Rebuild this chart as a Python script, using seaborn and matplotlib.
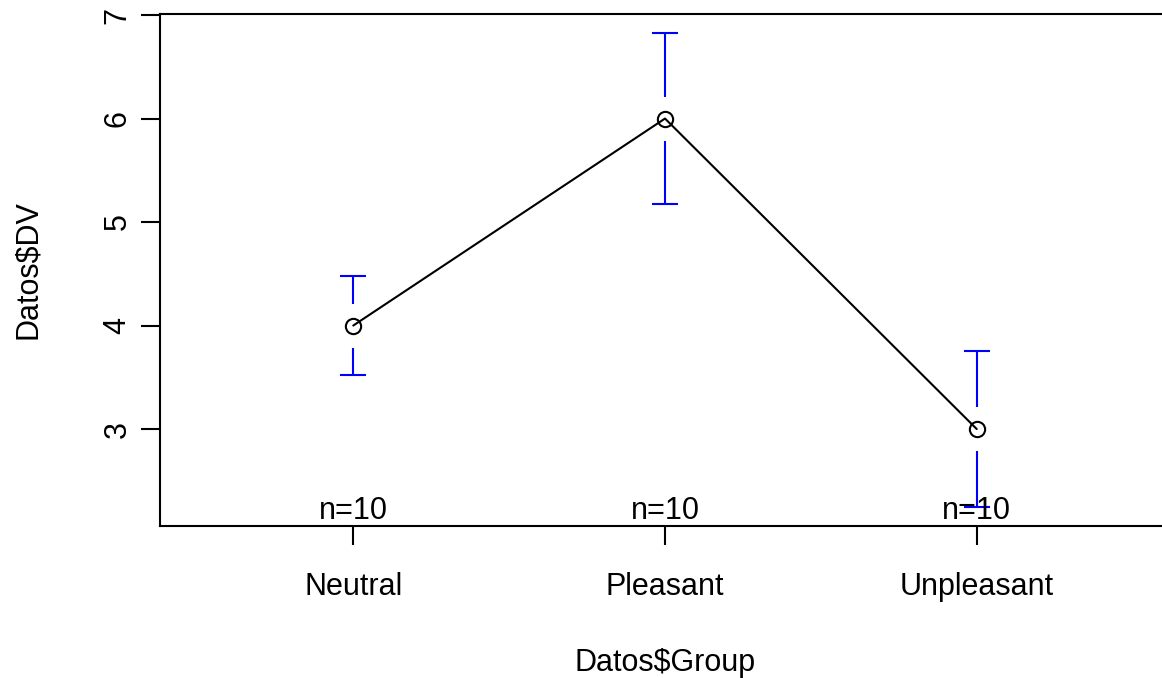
import matplotlib
matplotlib.use("Agg")
import matplotlib.pyplot as plt
import seaborn as sns
import numpy as np
import pandas as pd

categories = ["Neutral", "Pleasant", "Unpleasant"]
means = [4.0, 6.0, 3.0]
ci_lower = [3.52, 5.17, 2.25]
ci_upper = [4.48, 6.83, 3.75]
n_counts = [10, 10, 10]
y_ticks = [3, 4, 5, 6, 7]

sns.set_theme(style="white")
plt.rcParams['font.family'] = ['Liberation Sans', 'DejaVu Sans']

fig = plt.figure(figsize=(11.62, 6.78), dpi=100)
ax = fig.add_axes([160/1162, 1-525.6/678, (1170-160)/1162, (525.6-13.7)/678])

pos = np.arange(1, len(categories) + 1)
df = pd.DataFrame({"pos": pos, "mean": means})

ax.set_xlim(0.38, 3.62)
ax.set_ylim(2.067, 7.013)

# error bars with a gap around the point (gap in pixels -> data units)
gap_px = 22
px_per_unit = ax.transData.transform((0, 1))[1] - ax.transData.transform((0, 0))[1]
gap = gap_px / px_per_unit
cap_px = 13
px_per_x = ax.transData.transform((1, 0))[0] - ax.transData.transform((0, 0))[0]
cap = cap_px / px_per_x
for p, m, lo, hi in zip(pos, means, ci_lower, ci_upper):
    ax.plot([p, p], [m + gap, hi], color="blue", lw=1.5, solid_capstyle="butt")
    ax.plot([p, p], [m - gap, lo], color="blue", lw=1.5, solid_capstyle="butt")
    ax.plot([p - cap, p + cap], [hi, hi], color="blue", lw=1.5, solid_capstyle="butt")
    ax.plot([p - cap, p + cap], [lo, lo], color="blue", lw=1.5, solid_capstyle="butt")

sns.lineplot(data=df, x="pos", y="mean", ax=ax, color="black", lw=1.5,
             marker="o", markersize=11, markerfacecolor="none",
             markeredgecolor="black", markeredgewidth=1.5)

for p, n in zip(pos, n_counts):
    ax.annotate(f"n={n}", xy=(p, 2.067), xytext=(0, 5), textcoords="offset points",
                ha="center", va="baseline", fontsize=22, color="black")

ax.set_xticks(pos)
ax.set_xticklabels(categories)
ax.set_yticks(y_ticks)
ax.set_yticklabels([str(t) for t in y_ticks], rotation=90, va="center")
ax.tick_params(axis="both", which="both", direction="out", length=13.7, width=1.5,
               colors="black", labelsize=22, left=True, bottom=True)
ax.tick_params(axis="x", pad=20)
ax.tick_params(axis="y", pad=6)

for s in ["left", "top", "bottom", "right"]:
    ax.spines[s].set_visible(True)
    ax.spines[s].set_color("black")
    ax.spines[s].set_linewidth(1.5)

ax.set_xlabel("Datos$Group", fontsize=22, labelpad=33, color="black")
ax.set_ylabel("Datos$DV", fontsize=22, labelpad=43, color="black")
ax.grid(False)

fig.savefig("out.png", dpi=100)
